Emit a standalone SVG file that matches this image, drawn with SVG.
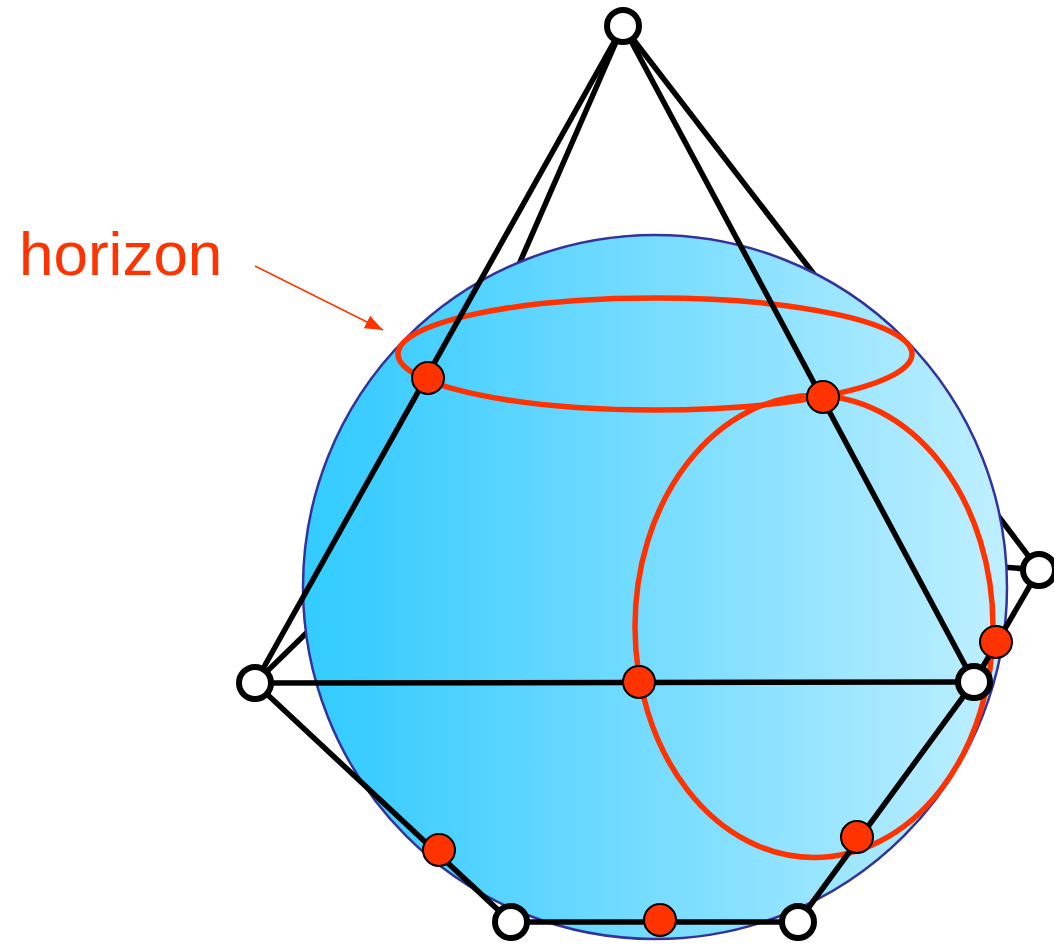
<svg xmlns="http://www.w3.org/2000/svg" width="1054" height="945" viewBox="0 0 1054 945">
<style>
.e{stroke:#000;stroke-width:5.5;fill:none}
.r{stroke:#ff3300;stroke-width:5.5;fill:none}
.v{fill:#fff;stroke:#000;stroke-width:6}
.d{fill:#ff3300;stroke:#000;stroke-width:2}
</style>
<defs>
<linearGradient id="sph" gradientUnits="userSpaceOnUse" x1="303" y1="0" x2="1007" y2="0">
<stop offset="0" stop-color="#33ccff"/>
<stop offset="0.1" stop-color="#3dcdff"/>
<stop offset="1" stop-color="#bfefff"/>
</linearGradient>
<marker id="ah" markerUnits="userSpaceOnUse" markerWidth="20" markerHeight="14" refX="18" refY="7" orient="auto">
<path d="M0 0L18 7L0 14z" fill="#ff3300"/>
</marker>
</defs>
<g id="connectors-back">
<line class="e" x1="623" y1="26" x2="510" y2="285"/>
<line class="e" x1="623" y1="26" x2="830" y2="295"/>
<line class="e" x1="255" y1="683" x2="330" y2="610"/>
<line class="e" x1="1039" y1="570" x2="990" y2="505"/>
<line class="e" x1="1039" y1="570" x2="990" y2="566"/>
</g>
<g id="sphere"><circle cx="655" cy="587" r="352" fill="url(#sph)" stroke="#333399" stroke-width="2.5"/></g>
<g id="red-curves">
<ellipse class="r" cx="655" cy="354" rx="257" ry="56"/>
<ellipse class="r" cx="814" cy="626.5" rx="179" ry="231"/>
</g>
<g id="connectors">
<line class="e" x1="623" y1="26" x2="255" y2="683"/>
<line class="e" x1="623" y1="26" x2="974" y2="682"/>
<line class="e" x1="255" y1="683" x2="974" y2="682"/>
<line class="e" x1="255" y1="683" x2="511" y2="922"/>
<line class="e" x1="511" y1="922" x2="798" y2="922"/>
<line class="e" x1="798" y1="922" x2="974" y2="682"/>
<line class="e" x1="974" y1="682" x2="1039" y2="570"/>
</g>
<g id="label"><text x="19" y="275" font-family="'Liberation Sans',Arial,sans-serif" font-size="62" fill="#ff3300">horizon</text>
<line x1="255" y1="266" x2="383" y2="330" stroke="#ff3300" stroke-width="1.5" marker-end="url(#ah)"/></g>
<g id="n-top"><circle class="v" cx="623" cy="26" r="16"/></g>
<g id="n-left"><circle class="v" cx="255" cy="683" r="16"/></g>
<g id="n-right"><circle class="v" cx="974" cy="682" r="16"/></g>
<g id="n-far"><circle class="v" cx="1039" cy="570" r="16"/></g>
<g id="n-bl"><circle class="v" cx="511" cy="922" r="16"/></g>
<g id="n-br"><circle class="v" cx="798" cy="922" r="16"/></g>
<g id="p1"><circle class="d" cx="428" cy="378" r="16"/></g>
<g id="p2"><circle class="d" cx="823" cy="397" r="16"/></g>
<g id="p3"><circle class="d" cx="639" cy="682" r="16"/></g>
<g id="p4"><circle class="d" cx="996" cy="642" r="16"/></g>
<g id="p5"><circle class="d" cx="857" cy="837" r="16"/></g>
<g id="p6"><circle class="d" cx="660" cy="920" r="16"/></g>
<g id="p7"><circle class="d" cx="439" cy="850" r="16"/></g>
</svg>
